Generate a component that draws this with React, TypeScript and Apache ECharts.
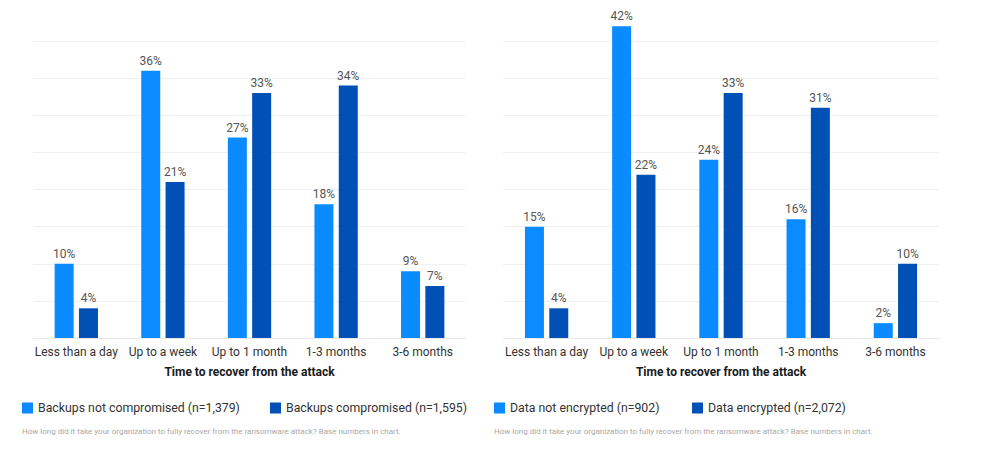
import React, { useEffect, useRef } from "react";
import * as echarts from "echarts";

const categories = ["Less than a day", "Up to a week", "Up to 1 month", "1-3 months", "3-6 months"];
const backupsNotCompromised = [10, 36, 27, 18, 9];
const backupsCompromised = [4, 21, 33, 34, 7];
const dataNotEncrypted = [15, 42, 24, 16, 2];
const dataEncrypted = [4, 22, 33, 31, 10];
const leftNames = ["Backups not compromised (n=1,379)", "Backups compromised (n=1,595)"];
const rightNames = ["Data not encrypted (n=902)", "Data encrypted (n=2,072)"];
const axisTitle = "Time to recover from the attack";
const footnote = "How long did it take your organization to fully recover from the ransomware attack? Base numbers in chart.";

const LIGHT = "#0a8bff";
const DARK = "#0050b5";
const FONT = "Roboto";

export default function App() {
  const ref = useRef<HTMLDivElement>(null);
  useEffect(() => {
    const chart = echarts.init(ref.current!, null, { renderer: "svg" });
    const grids = [
      { left: 33, top: 41, width: 433, height: 297 },
      { left: 503, top: 41, width: 436, height: 297 },
    ];
    const xAxis = grids.map((_, i) => ({
      type: "category",
      gridIndex: i,
      data: categories,
      axisLine: { lineStyle: { color: "#ebebeb" } },
      axisTick: { show: false },
      axisLabel: { color: "#333", fontFamily: FONT, fontSize: 12, margin: 8, interval: 0 },
      name: axisTitle,
      nameLocation: "middle",
      nameGap: 28,
      nameTextStyle: { color: "#1a1a1a", fontFamily: FONT, fontSize: 12, fontWeight: "bold" },
    }));
    const yAxis = grids.map((_, i) => ({
      type: "value",
      gridIndex: i,
      min: 0,
      max: 40,
      interval: 5,
      axisLabel: { show: false },
      axisLine: { show: false },
      axisTick: { show: false },
      splitLine: { lineStyle: { color: "#f0f0f0" } },
    }));
    const mk = (name: string, data: number[], color: string, idx: number) => ({
      type: "bar",
      name,
      data,
      xAxisIndex: idx,
      yAxisIndex: idx,
      barWidth: 19,
      barGap: "28%",
      clip: false,
      itemStyle: { color },
      label: {
        show: true,
        position: "top",
        distance: 4,
        formatter: "{c}%",
        color: "#555",
        fontFamily: FONT,
        fontSize: 12,
      },
    });
    const legendItem = (name: string, left: number) => ({
      data: [name],
      left,
      top: 402,
      icon: "rect",
      itemWidth: 11,
      itemHeight: 11,
      itemGap: 6,
      padding: 0,
      selectedMode: false,
      textStyle: { color: "#333", fontFamily: FONT, fontSize: 12.3, padding: [0, 0, 0, 0] },
    });
    chart.setOption({
      animation: false,
      backgroundColor: "#fff",
      grid: grids,
      xAxis,
      yAxis,
      legend: [
        legendItem(leftNames[0], 22),
        legendItem(leftNames[1], 270),
        legendItem(rightNames[0], 494),
        legendItem(rightNames[1], 692),
      ],
      series: [
        mk(leftNames[0], backupsNotCompromised, LIGHT, 0),
        mk(leftNames[1], backupsCompromised, DARK, 0),
        mk(rightNames[0], dataNotEncrypted, LIGHT, 1),
        mk(rightNames[1], dataEncrypted, DARK, 1),
      ],
      graphic: [
        { type: "text", left: 22, top: 427, style: { text: footnote, fill: "#a8a8a8", font: `8px ${FONT}` } },
        { type: "text", left: 494, top: 427, style: { text: footnote, fill: "#a8a8a8", font: `8px ${FONT}` } },
      ],
    });
    return () => chart.dispose();
  }, []);
  return <div ref={ref} style={{ position: "fixed", left: 0, top: 0, width: 989, height: 467 }} />;
}
